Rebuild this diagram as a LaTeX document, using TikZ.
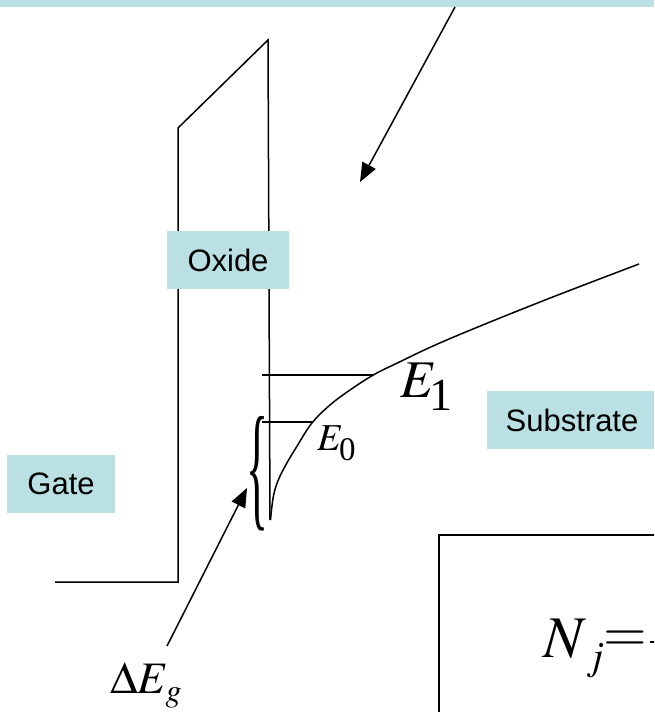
\documentclass[tikz,border=0pt]{standalone}
\usepackage{mathptmx}
\usepackage{fontspec}
\setmainfont{Liberation Serif}
\setsansfont{Liberation Sans}
\usetikzlibrary{arrows.meta}
\definecolor{boxcyan}{RGB}{187,224,227}
\tikzset{
  ln/.style={line width=1.5pt, line join=miter},
  lbl/.style={fill=boxcyan, inner sep=0pt, font=\sffamily\fontsize{31}{31}\selectfont},
  arr/.style={line width=1.5pt, -{Triangle[length=19pt,width=15pt]}},
  mth/.style={inner sep=0pt, anchor=base west}
}
\begin{document}
\begin{tikzpicture}[x=1pt,y=-1pt]
\useasboundingbox (0,0) rectangle (654,712);
\clip (0,0) rectangle (654,712);
% top band
\fill[boxcyan] (0,0) rectangle (654,7);
% gate / oxide outline
\draw[ln] (55,582) -- (178,582) -- (178,128) -- (268,40) -- (270,520);
% levels
\draw[ln] (262,375) -- (373,375);
\draw[ln] (262,422) -- (312,422);
% band curve
\draw[ln] plot[smooth, tension=0.6] coordinates {(270.5,520) (273.3,496.7) (278.3,480) (286.7,463.3) (296.7,446.7) (311.7,423.3) (330,405) (350,390) (373.3,375) (396.7,363.3) (446.7,340) (540,302) (639,264)};
% labels
\node[lbl, minimum width=108pt, minimum height=58pt] (gate) at (61,484) {Gate};
\node[lbl, minimum width=122pt, minimum height=58pt] (oxide) at (228,260) {Oxide};
\node[lbl, minimum width=170pt, minimum height=58pt] (substrate) at (572,420) {Substrate};
% brace
\node[inner sep=0pt] (brace) at (257,474) {\resizebox{22pt}{96pt}{\rmfamily\{}};
% energy labels
\node[mth] (E1) at (400,397) {\fontsize{53}{53}\selectfont$E$\hspace{-7pt}\raisebox{-13pt}{\fontsize{46}{46}\selectfont 1}};
\node[mth] (E0) at (317,450) {\fontsize{38}{38}\selectfont$E$\hspace{-4pt}\raisebox{-10pt}{\fontsize{33}{33}\selectfont 0}};
\node[mth] (dEg) at (110,693) {\fontsize{45}{45}\selectfont$\Delta E$\hspace{-3pt}\raisebox{-8pt}{\fontsize{32}{32}\selectfont$g$}};
% arrows
\coordinate (a1s) at (455,7);
\coordinate (a1e) at (360,182);
\draw[arr] (a1s) -- (a1e);
\coordinate (a2s) at (167,646);
\coordinate (a2e) at (247,488);
\draw[arr] (a2s) -- (a2e);
% formula box
\draw[ln] (439,712) -- (439,535) -- (660,535);
\node[mth] (Nj) at (543,657) {\fontsize{59}{59}\selectfont$N$\hspace{0pt}\raisebox{-12pt}{\fontsize{40}{40}\selectfont$j$}};
\node[inner sep=0pt] (eq) at (625,641) {\fontsize{56}{56}\selectfont$=$};
\coordinate (fb) at (650,642);
\draw[line width=2pt] (fb) -- ++(10,0);
\end{tikzpicture}
\end{document}
